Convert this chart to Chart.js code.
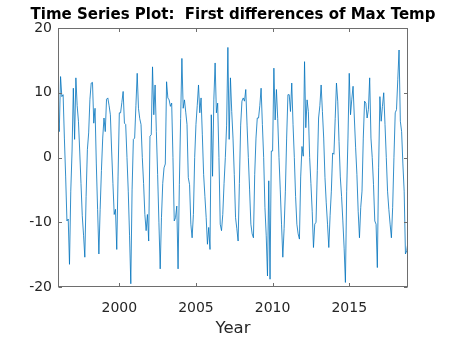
<!DOCTYPE html>
<html>
<head>
<meta charset="utf-8">
<title>First differences of Max Temp</title>
<script src="https://cdn.jsdelivr.net/npm/chart.js@4.4.1/dist/chart.umd.min.js"></script>
<style>
  html, body { margin: 0; padding: 0; background: #fff; }
  #wrap { width: 450px; height: 338px; }
</style>
</head>
<body>
<div id="wrap"><canvas id="tsChart" width="450" height="338"></canvas></div>
<script>
// first differences of max temp, Jan..Dec for each year (2018 stops in Nov)
const d1996 = [6.1, 4, 12.5, 9.4, 9.7, 3, -3, -9.8, -9.5, -16.5, -5.2, 1];
const d1997 = [10.7, 2.8, 12.3, 8, 5.6, 1, -4, -9, -12, -15.4, -6, 1.2];
const d1998 = [3.8, 9, 11.5, 11.6, 5.3, 7.6, -1, -8, -14.9, -8, -2, 3];
const d1999 = [6.1, 4, 9, 9.2, 8, 6.6, 1, -4, -8.8, -8, -14.2, -3];
const d2000 = [6.9, 6.9, 8.5, 10.2, 5.3, 5.1, 0, -5.2, -12, -19.5, -5, 2.8];
const d2001 = [3, 8, 13, 7.6, 6, 5.1, 0, -4, -8.8, -11.3, -8.8, -12.9];
const d2002 = [3.3, 3.5, 14, 6.6, 11.2, 4, -2.6, -10, -17.2, -9.3, -4, -1.6];
const d2003 = [-1, 11.7, 9.2, 8.9, 7.9, 8.4, 0, -9.8, -9.3, -7.5, -17.2, -4.2];
const d2004 = [6, 15.3, 7.6, 8.9, 7, 5.1, -3.1, -4.2, -10.3, -12.4, -8.8, 0];
const d2005 = [5.1, 8, 11.2, 6.9, 9.2, 3.5, -2.6, -6, -9.3, -13.4, -10.8, -14.2];
const d2006 = [6.6, -2.9, 8.9, 14.6, 6.9, 8.4, 0, -10.3, -11.3, -8.8, -4, 0];
const d2007 = [5, 17, 2.8, 12.3, 7.1, 3, -2.6, -9.3, -11, -12.9, -4, 5];
const d2008 = [8.7, 9.2, 8.7, 10.5, 5, 0, -5, -10.3, -11.8, -12.4, -2.6, 3];
const d2009 = [6.1, 6.1, 8, 10.7, 5.1, 0, -7.7, -12, -18.3, -3.6, -18.8, 1];
const d2010 = [1, 13.8, 5.8, 10.5, 6, 0, -5, -10.3, -15.4, -11, -5.2, 3];
const d2011 = [9.7, 9.7, 7.1, 11.5, 5.1, 0, -6, -10.3, -11.8, -12.6, -3, 1.7];
const d2012 = [0.2, 14.8, 4.6, 8.9, 7.1, 0, -4, -8.3, -13.9, -10.3, -10, -2];
const d2013 = [6.1, 8, 11.2, 7.1, 3, -3.1, -7, -10.3, -13.9, -9, -5.2, 0.7];
const d2014 = [0.5, 6, 11.5, 8.7, 2.5, -3, -6, -9.8, -14, -19.3, -5.2, 3];
const d2015 = [13, 6.6, 9, 11, 6.1, 1.5, -2.6, -8.3, -12.4, -7.7, -5.2, 3];
const d2016 = [8.7, 8.4, 6.1, 7.4, 12.3, 3, 0, -4.2, -9.8, -10.3, -17, -1.6];
const d2017 = [9.4, 5.6, 7.9, 10, 5.1, 0, -5.2, -8, -10.3, -12.4, -7.7, 0];
const d2018 = [6.9, 7.4, 12, 16.6, 5.6, 4, -1, -5.2, -14.9, -14.4, -13];

const years = [1996, 1997, 1998, 1999, 2000, 2001, 2002, 2003, 2004, 2005, 2006, 2007,
               2008, 2009, 2010, 2011, 2012, 2013, 2014, 2015, 2016, 2017, 2018];
const byYear = [d1996, d1997, d1998, d1999, d2000, d2001, d2002, d2003, d2004, d2005, d2006, d2007,
                d2008, d2009, d2010, d2011, d2012, d2013, d2014, d2015, d2016, d2017, d2018];

const xTicks = [2000, 2005, 2010, 2015];
const yTicks = [-20, -10, 0, 10, 20];

const TEXT = "#262626";
const LINE = "#0072BD";
const FONT = "'DejaVu Sans', sans-serif";

// month m of a year sits at year + m/12
const points = [];
years.forEach((yr, i) => {
  byYear[i].forEach((v, m) => points.push({ x: yr + m / 12, y: v }));
});

// matlab style box, ticks point inwards on every side
const boxTicks = {
  id: "boxTicks",
  afterDraw(chart) {
    const { ctx, chartArea: a, scales } = chart;
    const len = 3.5;
    const L = Math.round(a.left) + 0.5, R = Math.round(a.right) - 0.5;
    const T = Math.round(a.top) + 0.5, B = Math.round(a.bottom) - 0.5;
    ctx.save();
    ctx.strokeStyle = "#6e6e6e";
    ctx.lineWidth = 1;
    ctx.beginPath();
    xTicks.forEach((t) => {
      const x = Math.round(scales.x.getPixelForValue(t)) + 0.5;
      ctx.moveTo(x, B); ctx.lineTo(x, B - len);
      ctx.moveTo(x, T); ctx.lineTo(x, T + len);
    });
    yTicks.forEach((t) => {
      const y = Math.round(scales.y.getPixelForValue(t)) + 0.5;
      ctx.moveTo(L, y); ctx.lineTo(L + len, y);
      ctx.moveTo(R, y); ctx.lineTo(R - len, y);
    });
    ctx.stroke();
    ctx.strokeRect(L, T, R - L, B - T);
    ctx.restore();
  },
};

new Chart(document.getElementById("tsChart"), {
  type: "line",
  data: {
    datasets: [{
      data: points,
      borderColor: LINE,
      borderWidth: 0.8,
      pointRadius: 0,
      tension: 0,
      fill: false,
    }],
  },
  options: {
    responsive: false,
    animation: false,
    devicePixelRatio: 1,
    // 16px left pad + 42px axis on each side keeps the title centred over the plot
    layout: { padding: { left: 16, right: 0, top: 0, bottom: 0 } },
    plugins: {
      legend: { display: false },
      tooltip: { enabled: false },
      title: {
        display: true,
        text: "Time Series Plot:  First differences of Max Temp",
        color: "#000",
        font: { family: FONT, size: 15, weight: "bold" },
        padding: { top: 6, bottom: 4 },
      },
    },
    scales: {
      x: {
        type: "linear",
        min: points[0].x,
        max: points[points.length - 1].x,
        afterBuildTicks: (s) => { s.ticks = xTicks.map((v) => ({ value: v })); },
        afterFit: (s) => { s.height = 51; },
        grid: { display: false, drawTicks: false },
        border: { display: false },
        ticks: {
          color: TEXT,
          font: { family: FONT, size: 14 },
          padding: 13,
          maxRotation: 0,
          callback: (v) => String(v),
        },
        title: {
          display: true,
          text: "Year",
          color: TEXT,
          font: { family: FONT, size: 16.5 },
          padding: { top: 2, bottom: -1 },
        },
      },
      y: {
        min: -20,
        max: 20,
        afterBuildTicks: (s) => { s.ticks = yTicks.map((v) => ({ value: v })); },
        afterFit: (s) => { s.width = 42; },
        grid: { display: false, drawTicks: false },
        border: { display: false },
        ticks: {
          color: TEXT,
          font: { family: FONT, size: 14 },
          padding: 6,
          callback: (v) => String(v),
        },
      },
      // empty right-hand axis, only reserves the margin
      yRight: {
        position: "right",
        min: -20,
        max: 20,
        afterFit: (s) => { s.width = 42; },
        grid: { display: false, drawTicks: false },
        border: { display: false },
        ticks: { display: false },
      },
    },
  },
  plugins: [boxTicks],
});
</script>
</body>
</html>
